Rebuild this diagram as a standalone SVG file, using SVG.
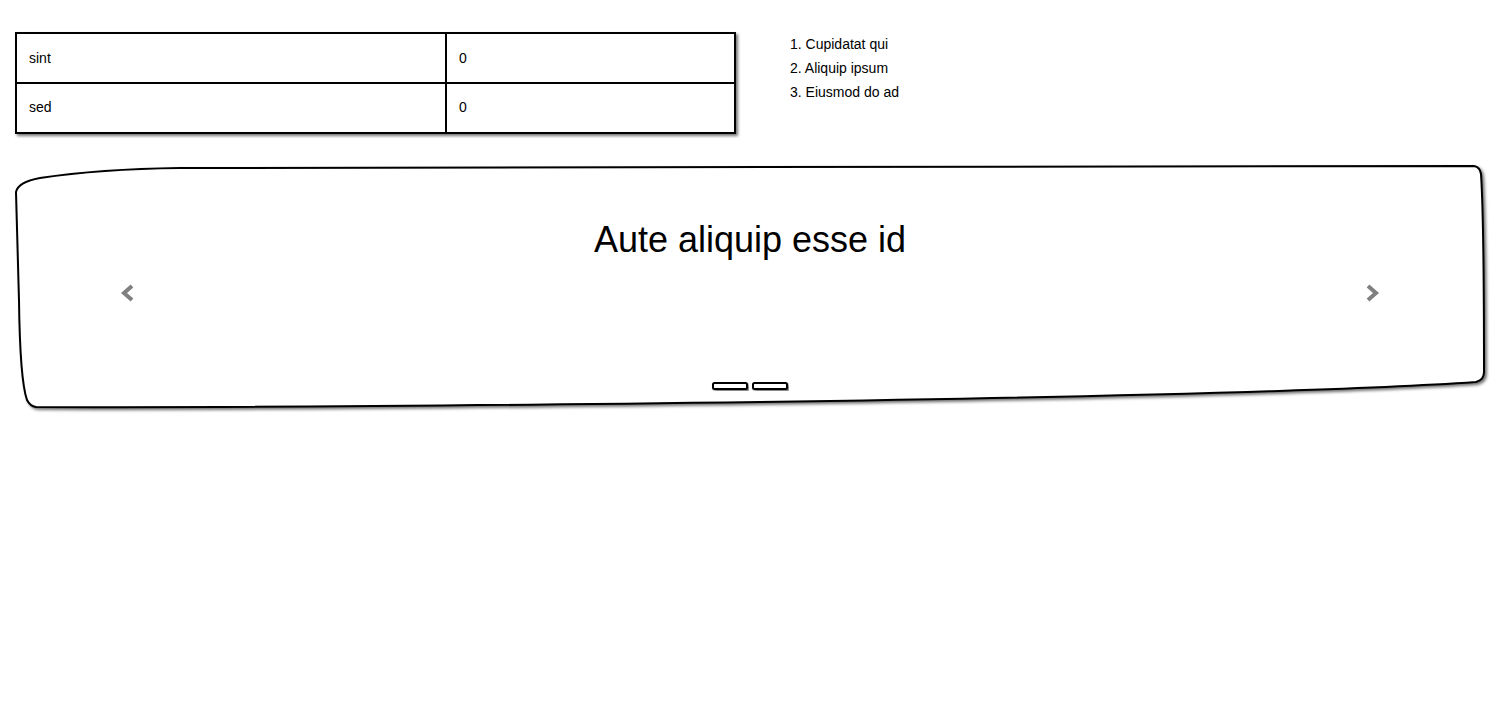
<svg xmlns="http://www.w3.org/2000/svg" width="1500" height="720" viewBox="0 0 1500 720">
<defs>
<filter id="sh" x="-5%" y="-10%" width="110%" height="130%">
<feDropShadow dx="2" dy="2" stdDeviation="1.5" flood-color="#000" flood-opacity="0.55"/>
</filter>
<style>
.t{font-family:"Liberation Sans",Arial,sans-serif;fill:#000}
.cell{font-size:14px}
.li{font-size:14px}
.title{font-size:36px}
.ln{stroke:#000;stroke-width:2;fill:none}
.chev{stroke:#808080;stroke-width:4;fill:none;stroke-linecap:butt;stroke-linejoin:miter}
</style>
</defs>
<rect width="1500" height="720" fill="#fff"/>
<g id="table">
<rect x="16" y="33" width="719" height="100" fill="#fff" stroke="#000" stroke-width="2" filter="url(#sh)"/>
<line class="ln" x1="16" y1="83" x2="735" y2="83"/>
<line class="ln" x1="446" y1="33" x2="446" y2="133"/>
<text class="t cell" x="29" y="63">sint</text>
<text class="t cell" x="459" y="63">0</text>
<text class="t cell" x="29" y="112">sed</text>
<text class="t cell" x="459" y="112">0</text>
</g>
<g id="list">
<text class="t li" x="790" y="49">1. Cupidatat qui</text>
<text class="t li" x="790" y="73">2. Aliquip ipsum</text>
<text class="t li" x="790" y="97">3. Eiusmod do ad</text>
</g>
<g id="carousel">
<path d="M16,192 Q18,182 40,178 Q100,169 180,168 L1474,166 Q1480,167 1481,174 Q1484,220 1484,372 Q1484,380 1476,382 Q1300,394 760,402 Q300,408 36,407 Q30,406 27,400 Q20,380 19,300 Q17,220 16,192 Z" fill="#fff" stroke="#000" stroke-width="2" filter="url(#sh)"/>
<text class="t title" x="750" y="252" text-anchor="middle">Aute aliquip esse id</text>
<polyline class="chev" points="132,286 124,293 132,300"/>
<polyline class="chev" points="1368,286 1376,293 1368,300"/>
<rect x="713" y="383" width="34" height="6" rx="1.5" fill="#fff" stroke="#000" stroke-width="2" filter="url(#sh)"/>
<rect x="753" y="383" width="34" height="6" rx="1.5" fill="#fff" stroke="#000" stroke-width="2" filter="url(#sh)"/>
</g>
<g id="connectors"/>
</svg>
